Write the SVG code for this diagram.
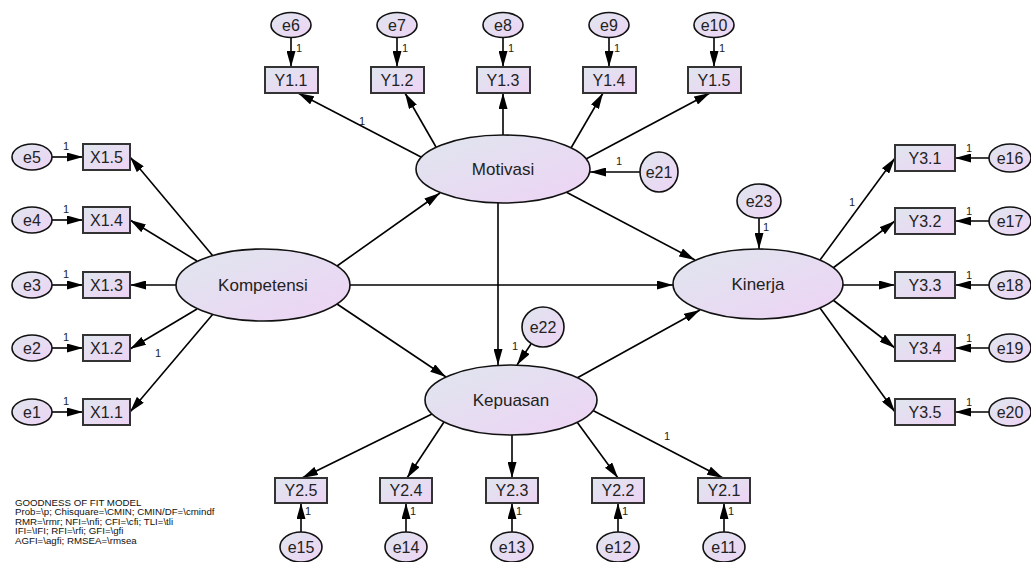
<svg xmlns="http://www.w3.org/2000/svg" width="1031" height="562" viewBox="0 0 1031 562">
<defs>
<linearGradient id="g" x1="0" y1="0" x2="1" y2="1">
<stop offset="0" stop-color="#dfe6ee"/>
<stop offset="1" stop-color="#eed3f5"/>
</linearGradient>
<marker id="a" markerWidth="16" markerHeight="9" refX="16" refY="4.5" orient="auto" markerUnits="userSpaceOnUse">
<path d="M0,0 L16,4.5 L0,9 z" fill="#000"/>
</marker>
<style>
.lat{fill:url(#g);stroke:#111;stroke-width:1.6}
.err{fill:url(#g);stroke:#111;stroke-width:1.6}
.obs{fill:url(#g);stroke:#333;stroke-width:2}
.t{font-family:"Liberation Sans",Arial,sans-serif;fill:#222;text-anchor:middle;dominant-baseline:central}
.tl{font-size:17px}
.to{font-size:16px}
.te{font-size:16px}
.one{font-family:"Liberation Sans",Arial,sans-serif;font-size:11px;fill:#222;text-anchor:middle;dominant-baseline:central}
.c line{stroke:#000;stroke-width:1.6;marker-end:url(#a)}
.gof{font-family:"Liberation Sans",Arial,sans-serif;font-size:9.7px;fill:#111}
</style>
</defs>
<rect width="1031" height="562" fill="#fff"/>

<g id="connectors" class="c">
<!-- latent to latent -->
<line x1="337" y1="266" x2="440" y2="193"/>
<line x1="350" y1="285" x2="673" y2="285"/>
<line x1="337" y1="304" x2="446" y2="377"/>
<line x1="566" y1="192" x2="695" y2="260"/>
<line x1="498" y1="203" x2="498" y2="365"/>
<line x1="577" y1="378" x2="700" y2="310"/>
<!-- disturbances -->
<line x1="640" y1="172" x2="590" y2="172"/>
<line x1="531" y1="344" x2="517" y2="365"/>
<line x1="759" y1="218" x2="759" y2="249"/>
<!-- Motivasi to Y1 -->
<line x1="421" y1="157" x2="298" y2="93"/>
<line x1="436" y1="147" x2="405" y2="93"/>
<line x1="503" y1="135" x2="503" y2="93"/>
<line x1="571" y1="148" x2="603" y2="93"/>
<line x1="586" y1="159" x2="710" y2="93"/>
<!-- errors to Y1 -->
<line x1="291" y1="37" x2="291" y2="67"/>
<line x1="397" y1="37" x2="397" y2="67"/>
<line x1="503" y1="37" x2="503" y2="67"/>
<line x1="609" y1="37" x2="609" y2="67"/>
<line x1="714" y1="37" x2="714" y2="67"/>
<!-- Kompetensi to X1 -->
<line x1="213" y1="256" x2="130" y2="157"/>
<line x1="197" y1="261" x2="130" y2="220"/>
<line x1="176" y1="285" x2="130" y2="285"/>
<line x1="197" y1="309" x2="130" y2="349"/>
<line x1="213" y1="314" x2="130" y2="412"/>
<!-- errors to X1 -->
<line x1="52" y1="157" x2="83" y2="157"/>
<line x1="52" y1="220" x2="83" y2="220"/>
<line x1="52" y1="285" x2="83" y2="285"/>
<line x1="52" y1="348" x2="83" y2="348"/>
<line x1="52" y1="412" x2="83" y2="412"/>
<!-- Kinerja to Y3 -->
<line x1="820" y1="260" x2="895" y2="158"/>
<line x1="833" y1="268" x2="895" y2="221"/>
<line x1="843" y1="285" x2="895" y2="285"/>
<line x1="833" y1="300" x2="895" y2="348"/>
<line x1="820" y1="308" x2="895" y2="412"/>
<!-- errors to Y3 -->
<line x1="989" y1="158" x2="955" y2="158"/>
<line x1="989" y1="221" x2="955" y2="221"/>
<line x1="989" y1="285" x2="955" y2="285"/>
<line x1="989" y1="348" x2="955" y2="348"/>
<line x1="989" y1="412" x2="955" y2="412"/>
<!-- Kepuasan to Y2 -->
<line x1="432" y1="414" x2="302" y2="478"/>
<line x1="444" y1="422" x2="407" y2="478"/>
<line x1="512" y1="435" x2="512" y2="478"/>
<line x1="577" y1="422" x2="618" y2="478"/>
<line x1="592" y1="410" x2="723" y2="478"/>
<!-- errors to Y2 -->
<line x1="301" y1="532" x2="301" y2="503"/>
<line x1="406" y1="532" x2="406" y2="503"/>
<line x1="512" y1="532" x2="512" y2="503"/>
<line x1="618" y1="532" x2="618" y2="503"/>
<line x1="724" y1="532" x2="724" y2="503"/>
</g>

<g id="labels-1">
<text class="one" x="362" y="121">1</text>
<text class="one" x="158" y="353">1</text>
<text class="one" x="852" y="202">1</text>
<text class="one" x="667" y="436">1</text>
<text class="one" x="619" y="161">1</text>
<text class="one" x="515" y="346">1</text>
<text class="one" x="766" y="227">1</text>
<text class="one" x="299" y="48">1</text>
<text class="one" x="405" y="48">1</text>
<text class="one" x="511" y="48">1</text>
<text class="one" x="617" y="48">1</text>
<text class="one" x="722" y="48">1</text>
<text class="one" x="66" y="146">1</text>
<text class="one" x="66" y="209">1</text>
<text class="one" x="66" y="274">1</text>
<text class="one" x="66" y="337">1</text>
<text class="one" x="66" y="401">1</text>
<text class="one" x="969" y="148">1</text>
<text class="one" x="969" y="211">1</text>
<text class="one" x="969" y="275">1</text>
<text class="one" x="969" y="338">1</text>
<text class="one" x="969" y="402">1</text>
<text class="one" x="308" y="511">1</text>
<text class="one" x="413" y="511">1</text>
<text class="one" x="519" y="511">1</text>
<text class="one" x="625" y="511">1</text>
<text class="one" x="731" y="511">1</text>
</g>

<g id="Kompetensi"><ellipse class="lat" cx="263" cy="285" rx="87" ry="36"/><text class="t tl" x="263" y="285">Kompetensi</text></g>
<g id="Motivasi"><ellipse class="lat" cx="503" cy="169" rx="87" ry="34"/><text class="t tl" x="503" y="169">Motivasi</text></g>
<g id="Kepuasan"><ellipse class="lat" cx="511" cy="400" rx="86" ry="35"/><text class="t tl" x="511" y="400">Kepuasan</text></g>
<g id="Kinerja"><ellipse class="lat" cx="758" cy="284" rx="85" ry="35"/><text class="t tl" x="758" y="284">Kinerja</text></g>

<g id="e21"><ellipse class="err" cx="659" cy="172" rx="19" ry="20"/><text class="t te" x="659" y="172">e21</text></g>
<g id="e22"><ellipse class="err" cx="543" cy="327" rx="21" ry="20"/><text class="t te" x="543" y="327">e22</text></g>
<g id="e23"><ellipse class="err" cx="759" cy="201" rx="22" ry="17"/><text class="t te" x="759" y="201">e23</text></g>

<g id="Y1.1"><rect class="obs" x="265" y="67" width="53" height="26"/><text class="t to" x="291" y="80">Y1.1</text></g>
<g id="Y1.2"><rect class="obs" x="371" y="67" width="53" height="26"/><text class="t to" x="397" y="80">Y1.2</text></g>
<g id="Y1.3"><rect class="obs" x="477" y="67" width="53" height="26"/><text class="t to" x="503" y="80">Y1.3</text></g>
<g id="Y1.4"><rect class="obs" x="583" y="67" width="53" height="26"/><text class="t to" x="609" y="80">Y1.4</text></g>
<g id="Y1.5"><rect class="obs" x="688" y="67" width="53" height="26"/><text class="t to" x="714" y="80">Y1.5</text></g>

<g id="e6"><ellipse class="err" cx="291" cy="25" rx="20" ry="12.5"/><text class="t te" x="291" y="25">e6</text></g>
<g id="e7"><ellipse class="err" cx="397" cy="25" rx="20" ry="12.5"/><text class="t te" x="397" y="25">e7</text></g>
<g id="e8"><ellipse class="err" cx="503" cy="25" rx="20" ry="12.5"/><text class="t te" x="503" y="25">e8</text></g>
<g id="e9"><ellipse class="err" cx="609" cy="25" rx="20" ry="12.5"/><text class="t te" x="609" y="25">e9</text></g>
<g id="e10"><ellipse class="err" cx="714" cy="25" rx="20" ry="12.5"/><text class="t te" x="714" y="25">e10</text></g>

<g id="X1.5"><rect class="obs" x="83" y="144" width="47" height="26"/><text class="t to" x="106.5" y="157">X1.5</text></g>
<g id="X1.4"><rect class="obs" x="83" y="207" width="47" height="26"/><text class="t to" x="106.5" y="220">X1.4</text></g>
<g id="X1.3"><rect class="obs" x="83" y="272" width="47" height="26"/><text class="t to" x="106.5" y="285">X1.3</text></g>
<g id="X1.2"><rect class="obs" x="83" y="335" width="47" height="26"/><text class="t to" x="106.5" y="348">X1.2</text></g>
<g id="X1.1"><rect class="obs" x="83" y="399" width="47" height="26"/><text class="t to" x="106.5" y="412">X1.1</text></g>

<g id="e5"><ellipse class="err" cx="32" cy="157" rx="20" ry="13"/><text class="t te" x="32" y="157">e5</text></g>
<g id="e4"><ellipse class="err" cx="32" cy="220" rx="20" ry="13"/><text class="t te" x="32" y="220">e4</text></g>
<g id="e3"><ellipse class="err" cx="32" cy="285" rx="20" ry="13"/><text class="t te" x="32" y="285">e3</text></g>
<g id="e2"><ellipse class="err" cx="32" cy="348" rx="20" ry="13"/><text class="t te" x="32" y="348">e2</text></g>
<g id="e1"><ellipse class="err" cx="32" cy="412" rx="20" ry="13"/><text class="t te" x="32" y="412">e1</text></g>

<g id="Y3.1"><rect class="obs" x="895" y="145" width="60" height="26"/><text class="t to" x="925" y="158">Y3.1</text></g>
<g id="Y3.2"><rect class="obs" x="895" y="208" width="60" height="26"/><text class="t to" x="925" y="221">Y3.2</text></g>
<g id="Y3.3"><rect class="obs" x="895" y="272" width="60" height="26"/><text class="t to" x="925" y="285">Y3.3</text></g>
<g id="Y3.4"><rect class="obs" x="895" y="335" width="60" height="26"/><text class="t to" x="925" y="348">Y3.4</text></g>
<g id="Y3.5"><rect class="obs" x="895" y="399" width="60" height="26"/><text class="t to" x="925" y="412">Y3.5</text></g>

<g id="e16"><ellipse class="err" cx="1010" cy="158" rx="21" ry="14"/><text class="t te" x="1010" y="158">e16</text></g>
<g id="e17"><ellipse class="err" cx="1010" cy="221" rx="21" ry="14"/><text class="t te" x="1010" y="221">e17</text></g>
<g id="e18"><ellipse class="err" cx="1010" cy="285" rx="21" ry="14"/><text class="t te" x="1010" y="285">e18</text></g>
<g id="e19"><ellipse class="err" cx="1010" cy="348" rx="21" ry="14"/><text class="t te" x="1010" y="348">e19</text></g>
<g id="e20"><ellipse class="err" cx="1010" cy="412" rx="21" ry="14"/><text class="t te" x="1010" y="412">e20</text></g>

<g id="Y2.5"><rect class="obs" x="275" y="478" width="52" height="25"/><text class="t to" x="301" y="490.5">Y2.5</text></g>
<g id="Y2.4"><rect class="obs" x="380" y="478" width="52" height="25"/><text class="t to" x="406" y="490.5">Y2.4</text></g>
<g id="Y2.3"><rect class="obs" x="486" y="478" width="52" height="25"/><text class="t to" x="512" y="490.5">Y2.3</text></g>
<g id="Y2.2"><rect class="obs" x="592" y="478" width="52" height="25"/><text class="t to" x="618" y="490.5">Y2.2</text></g>
<g id="Y2.1"><rect class="obs" x="698" y="478" width="52" height="25"/><text class="t to" x="724" y="490.5">Y2.1</text></g>

<g id="e15"><ellipse class="err" cx="301" cy="547" rx="21" ry="15"/><text class="t te" x="301" y="547">e15</text></g>
<g id="e14"><ellipse class="err" cx="406" cy="547" rx="21" ry="15"/><text class="t te" x="406" y="547">e14</text></g>
<g id="e13"><ellipse class="err" cx="512" cy="547" rx="21" ry="15"/><text class="t te" x="512" y="547">e13</text></g>
<g id="e12"><ellipse class="err" cx="618" cy="547" rx="21" ry="15"/><text class="t te" x="618" y="547">e12</text></g>
<g id="e11"><ellipse class="err" cx="724" cy="547" rx="21" ry="15"/><text class="t te" x="724" y="547">e11</text></g>

<g id="gof" class="gof">
<text x="15" y="505.5">GOODNESS OF FIT MODEL</text>
<text x="15" y="515">Prob=\p; Chisquare=\CMIN; CMIN/DF=\cmindf</text>
<text x="15" y="524.5">RMR=\rmr; NFI=\nfi; CFI=\cfi; TLI=\tli</text>
<text x="15" y="534">IFI=\IFI; RFI=\rfi; GFI=\gfi</text>
<text x="15" y="543.5">AGFI=\agfi; RMSEA=\rmsea</text>
</g>
</svg>
